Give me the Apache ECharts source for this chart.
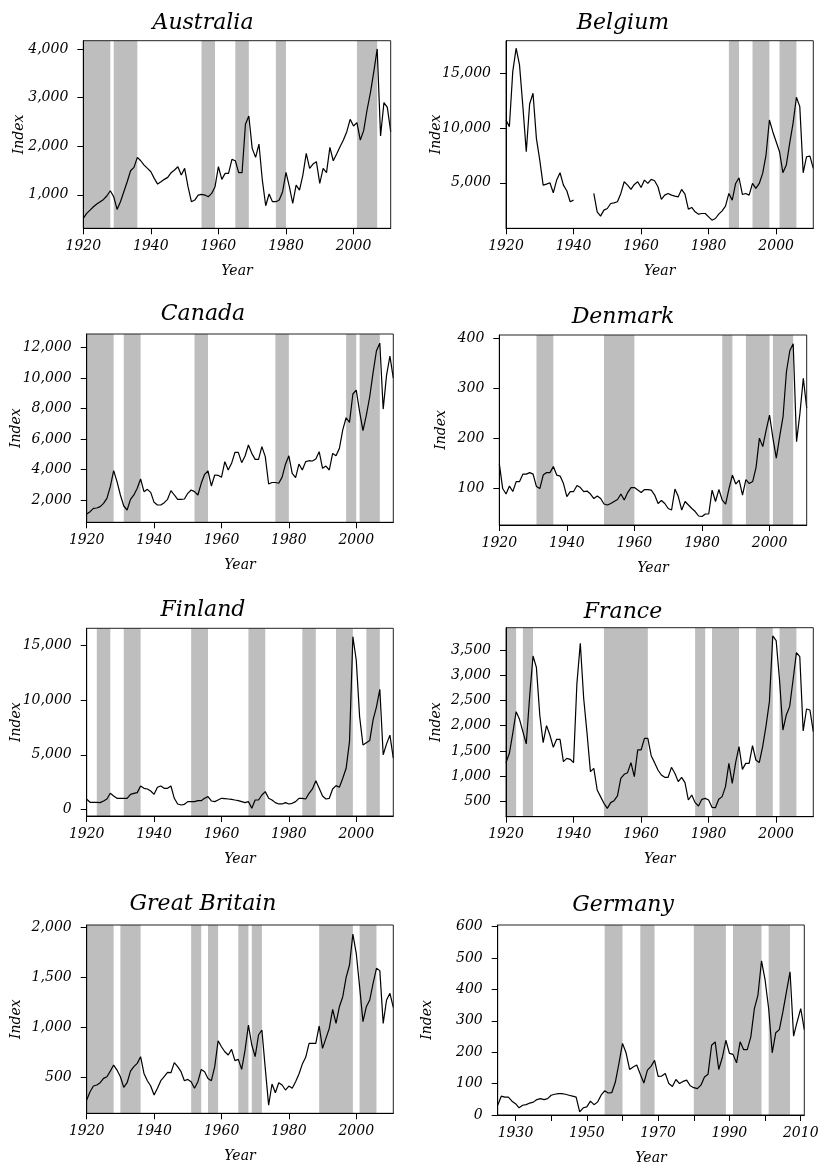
<!DOCTYPE html>
<html>
<head>
<meta charset="utf-8">
<script src="https://cdn.jsdelivr.net/npm/echarts@6/dist/echarts.min.js"></script>
<style>
  html, body { margin: 0; padding: 0; background: #fff; }
  #chart { width: 821px; height: 1170px; }
</style>
</head>
<body>
<div id="chart"></div>
<script>
// Annual house price index per country, with shaded boom periods.
const yearsFrom1920 = [];
for (let y = 1920; y <= 2011; y++) yearsFrom1920.push(y);
const yearsFrom1925 = [];
for (let y = 1925; y <= 2011; y++) yearsFrom1925.push(y);

const australia = [
  514, 616, 685, 754, 809, 857, 905, 980, 1083, 960,
  699, 857, 1063, 1268, 1495, 1564, 1770, 1700, 1611, 1543,
  1474, 1337, 1220, 1268, 1317, 1358, 1454, 1509, 1577, 1406,
  1543, 1166, 857, 891, 994, 1008, 994, 960, 1028, 1166,
  1577, 1317, 1440, 1440, 1728, 1700, 1454, 1454, 2450, 2620,
  1955, 1770, 2044, 1300, 774, 1015, 857, 857, 891, 1063,
  1460, 1166, 822, 1200, 1097, 1406, 1852, 1543, 1632, 1680,
  1234, 1543, 1454, 1975, 1700, 1838, 1989, 2126, 2298, 2552,
  2415, 2483, 2126, 2319, 2744, 3101, 3533, 4000, 2209, 2895,
  2799, 2298
];
const belgium = [
  10732, 10122, 15152, 17287, 15762, 11951, 7835, 12195, 13171, 9054,
  7073, 4786, 4878, 5000, 4085, 5244, 5914, 4786, 4268, 3262,
  3414, null, null, null, null, null, 4024, 2347, 1951, 2500,
  2652, 3109, 3170, 3262, 4024, 5091, 4786, 4390, 4847, 5091,
  4573, 5244, 4939, 5305, 5183, 4634, 3475, 3871, 4024, 3871,
  3780, 3719, 4390, 3963, 2591, 2743, 2347, 2134, 2195, 2195,
  1890, 1585, 1737, 2134, 2439, 2866, 4024, 3414, 4939, 5457,
  3932, 4024, 3871, 4939, 4482, 4939, 5853, 7530, 10732, 9664,
  8750, 7835, 5914, 6615, 8597, 10426, 12805, 11951, 5914, 7378,
  7439, 6311
];
const canada = [
  1082, 1235, 1454, 1476, 1563, 1782, 2110, 2876, 3926, 3204,
  2329, 1607, 1344, 2045, 2329, 2767, 3379, 2548, 2701, 2504,
  1848, 1673, 1673, 1826, 2045, 2614, 2329, 2045, 2045, 2067,
  2439, 2657, 2548, 2329, 3095, 3686, 3904, 2920, 3642, 3620,
  3489, 4517, 3970, 4408, 5130, 5130, 4452, 4889, 5611, 5064,
  4670, 4670, 5502, 4845, 3050, 3150, 3150, 3100, 3500, 4350,
  4900, 3750, 3470, 4360, 3970, 4520, 4580, 4560, 4690, 5170,
  4080, 4230, 3970, 5060, 4910, 5390, 6600, 7400, 7100, 8960,
  9220, 7800, 6550, 7580, 8780, 10360, 11800, 12300, 7970, 10200,
  11450, 10000
];
const denmark = [
  149, 99, 88, 104, 93, 113, 113, 128, 128, 131,
  128, 103, 99, 126, 131, 131, 143, 126, 124, 109,
  83, 93, 93, 105, 101, 93, 94, 88, 79, 84,
  79, 68, 66, 69, 73, 77, 88, 76, 91, 101,
  101, 96, 91, 97, 97, 96, 86, 69, 75, 69,
  59, 56, 98, 83, 56, 73, 66, 59, 53, 44,
  43, 48, 48, 96, 73, 97, 76, 68, 99, 126,
  108, 116, 86, 117, 109, 113, 141, 200, 183, 216,
  246, 200, 160, 203, 243, 333, 375, 389, 193, 250,
  320, 260
];
const finland = [
  917, 642, 642, 642, 611, 764, 947, 1466, 1222, 1008,
  1008, 1008, 1008, 1375, 1466, 1528, 2139, 1925, 1864, 1680,
  1375, 2016, 2139, 1925, 1925, 2139, 1008, 489, 397, 458,
  703, 703, 703, 794, 794, 1008, 1161, 764, 703, 855,
  1008, 978, 947, 917, 855, 794, 703, 611, 703, 92,
  855, 855, 1313, 1619, 1008, 855, 611, 489, 489, 611,
  489, 550, 703, 1008, 1008, 947, 1466, 1864, 2627, 1925,
  1222, 947, 1008, 1864, 2169, 2016, 2841, 3758, 6202, 15825,
  13686, 8500, 5900, 6100, 6300, 8200, 9400, 11000, 5000, 6000,
  6800, 4700
];
const france = [
  1267, 1452, 1848, 2278, 2126, 1881, 1637, 2575, 3381, 3156,
  2211, 1663, 2000, 1815, 1570, 1729, 1729, 1286, 1352, 1333,
  1267, 2839, 3632, 2542, 1848, 1088, 1154, 725, 593, 460,
  361, 474, 513, 606, 956, 1035, 1068, 1267, 989, 1518,
  1518, 1749, 1749, 1405, 1267, 1121, 1022, 976, 976, 1174,
  1055, 890, 976, 870, 526, 625, 474, 407, 540, 559,
  526, 381, 374, 540, 593, 791, 1253, 857, 1267, 1584,
  1134, 1253, 1253, 1604, 1319, 1267, 1584, 1993, 2476, 3778,
  3685, 2905, 1914, 2211, 2377, 2905, 3447, 3368, 1894, 2330,
  2310, 1881
];
const greatBritain = [
  277, 360, 417, 427, 450, 493, 510, 566, 626, 576,
  510, 404, 450, 566, 610, 643, 710, 543, 470, 417,
  327, 394, 470, 510, 553, 550, 650, 610, 560, 470,
  483, 460, 394, 460, 583, 560, 493, 470, 610, 869,
  809, 759, 726, 783, 670, 683, 583, 776, 1025, 826,
  710, 926, 976, 593, 227, 437, 350, 450, 427, 377,
  417, 394, 460, 537, 636, 703, 843, 843, 843, 1016,
  793, 892, 992, 1182, 1042, 1208, 1308, 1501, 1624, 1933,
  1741, 1408, 1059, 1208, 1275, 1441, 1591, 1568, 1042, 1275,
  1341, 1202
];
const germany = [
  31, 60, 57, 57, 44,
  36, 23, 31, 33, 38, 41, 49, 52, 49, 52,
  63, 66, 68, 68, 66, 63, 60, 57, 10, 23,
  26, 44, 33, 41, 63, 77, 70, 71, 105, 164,
  228, 198, 145, 153, 159, 130, 102, 143, 155, 174,
  123, 124, 132, 100, 91, 113, 100, 107, 111, 93,
  87, 84, 95, 121, 130, 222, 233, 145, 183, 238,
  196, 193, 166, 233, 208, 208, 249, 339, 382, 491,
  430, 339, 198, 262, 272, 329, 393, 456, 251, 297,
  339, 272
];

// Boom periods [start year, end year]
const australiaBooms = [[1920, 1928], [1929, 1936], [1955, 1959], [1965, 1969], [1977, 1980], [2001, 2007]];
const belgiumBooms = [[1986, 1989], [1993, 1998], [2001, 2006]];
const canadaBooms = [[1920, 1928], [1931, 1936], [1952, 1956], [1976, 1980], [1997, 2000], [2001, 2007]];
const denmarkBooms = [[1931, 1936], [1951, 1960], [1986, 1989], [1993, 2000], [2001, 2007]];
const finlandBooms = [[1923, 1927], [1931, 1936], [1951, 1956], [1968, 1973], [1984, 1988], [1994, 1999], [2003, 2007]];
const franceBooms = [[1920, 1923], [1925, 1928], [1949, 1962], [1976, 1979], [1981, 1989], [1994, 1999], [2001, 2006]];
const greatBritainBooms = [[1920, 1928], [1930, 1936], [1951, 1954], [1956, 1959], [1965, 1968], [1969, 1972], [1989, 1999], [2001, 2006]];
const germanyBooms = [[1955, 1960], [1965, 1969], [1980, 1989], [1991, 1999], [2001, 2007]];

// Tick values
const yearLabels = [1920, 1940, 1960, 1980, 2000];
const germanyYearLabels = [1930, 1950, 1970, 1990, 2010];
const germanyYearTicks = [1930, 1940, 1950, 1960, 1970, 1980, 1990, 2000, 2010];
const australiaTicks = [1000, 2000, 3000, 4000];
const belgiumTicks = [5000, 10000, 15000];
const canadaTicks = [2000, 4000, 6000, 8000, 10000, 12000];
const denmarkTicks = [100, 200, 300, 400];
const finlandTicks = [0, 5000, 10000, 15000];
const franceTicks = [500, 1000, 1500, 2000, 2500, 3000, 3500];
const greatBritainTicks = [500, 1000, 1500, 2000];
const germanyTicks = [0, 100, 200, 300, 400, 500, 600];

const FONT = '"DejaVu Serif", "Liberation Serif", serif';

const panels = [
  { name: 'Australia', years: yearsFrom1920, values: australia, booms: australiaBooms,
    yTicks: australiaTicks, yMin: 310, yMax: 4170, xMin: 1920, xMax: 2011,
    xLabels: yearLabels, xTicks: yearLabels,
    box: [83.3, 40.7, 307.4, 187.6], titleX: 198, titleTop: 7, yNameGap: 57 },
  { name: 'Belgium', years: yearsFrom1920, values: belgium, booms: belgiumBooms,
    yTicks: belgiumTicks, yMin: 842, yMax: 17973, xMin: 1920, xMax: 2011,
    xLabels: yearLabels, xTicks: yearLabels,
    box: [506, 40.7, 307.3, 187.6], titleX: 618, titleTop: 7, yNameGap: 63 },
  { name: 'Canada', years: yearsFrom1920, values: canada, booms: canadaBooms,
    yTicks: canadaTicks, yMin: 536, yMax: 12900, xMin: 1920, xMax: 2011,
    xLabels: yearLabels, xTicks: yearLabels,
    box: [86.7, 334, 306.6, 188.3], titleX: 198, titleTop: 298, yNameGap: 63.7 },
  { name: 'Denmark', years: yearsFrom1920, values: denmark, booms: denmarkBooms,
    yTicks: denmarkTicks, yMin: 26, yMax: 406.6, xMin: 1920, xMax: 2011,
    xLabels: yearLabels, xTicks: yearLabels,
    box: [499.3, 335, 307.4, 190], titleX: 618, titleTop: 301, yNameGap: 51.3 },
  { name: 'Finland', years: yearsFrom1920, values: finland, booms: finlandBooms,
    yTicks: finlandTicks, yMin: -614, yMax: 16595, xMin: 1920, xMax: 2011,
    xLabels: yearLabels, xTicks: yearLabels,
    box: [86.7, 628.3, 306.6, 187.7], titleX: 198, titleTop: 594, yNameGap: 63.7 },
  { name: 'France', years: yearsFrom1920, values: france, booms: franceBooms,
    yTicks: franceTicks, yMin: 195, yMax: 3942, xMin: 1920, xMax: 2011,
    xLabels: yearLabels, xTicks: yearLabels,
    box: [506, 627.7, 307.3, 189], titleX: 618, titleTop: 596, yNameGap: 63 },
  { name: 'Great Britain', years: yearsFrom1920, values: greatBritain, booms: greatBritainBooms,
    yTicks: greatBritainTicks, yMin: 145, yMax: 2023, xMin: 1920, xMax: 2011,
    xLabels: yearLabels, xTicks: yearLabels,
    box: [86.7, 925, 306.6, 188.3], titleX: 198, titleTop: 888, yNameGap: 63.7 },
  { name: 'Germany', years: yearsFrom1925, values: germany, booms: germanyBooms,
    yTicks: germanyTicks, yMin: 0, yMax: 605, xMin: 1925, xMax: 2011,
    xLabels: germanyYearLabels, xTicks: germanyYearTicks,
    box: [497.7, 925, 306.6, 190], titleX: 618, titleTop: 889, yNameGap: 63 }
];

const withCommas = v => String(v).replace(/\B(?=(\d{3})+(?!\d))/g, ',');
const plainYear = v => String(v);
const textBase = { fontFamily: FONT, fontStyle: 'italic', fontWeight: 'normal', color: '#000' };

const option = {
  animation: false,
  backgroundColor: '#fff',
  title: panels.map(p => ({
    text: p.name, left: p.titleX, top: p.titleTop, textAlign: 'center',
    textStyle: Object.assign({ fontSize: 22 }, textBase)
  })),
  grid: panels.map(p => ({
    left: p.box[0], top: p.box[1], width: p.box[2], height: p.box[3],
    show: true, backgroundColor: 'transparent', borderColor: '#222', borderWidth: 1,
    containLabel: false, outerBoundsMode: 'none', z: 10
  })),
  xAxis: panels.map((p, i) => ({
    type: 'value', gridIndex: i, min: p.xMin, max: p.xMax, z: 10,
    name: 'Year', nameLocation: 'middle', nameGap: 36, nameMoveOverlap: false,
    nameTextStyle: Object.assign({ fontSize: 14 }, textBase),
    axisLine: { show: true, onZero: false, lineStyle: { color: '#000', width: 1 } },
    axisTick: { show: true, inside: false, length: 6, customValues: p.xTicks, lineStyle: { color: '#000', width: 1 } },
    axisLabel: Object.assign({ customValues: p.xLabels, margin: 11, fontSize: 14, formatter: plainYear }, textBase),
    splitLine: { show: false }
  })),
  yAxis: panels.map((p, i) => ({
    type: 'value', gridIndex: i, min: p.yMin, max: p.yMax, z: 10,
    name: 'Index', nameLocation: 'middle', nameGap: p.yNameGap, nameMoveOverlap: false,
    nameTextStyle: Object.assign({ fontSize: 14 }, textBase),
    axisLine: { show: true, onZero: false, lineStyle: { color: '#000', width: 1 } },
    axisTick: { show: true, inside: false, length: 6, customValues: p.yTicks, lineStyle: { color: '#000', width: 1 } },
    axisLabel: Object.assign({ customValues: p.yTicks, margin: 15, fontSize: 14, formatter: withCommas }, textBase),
    splitLine: { show: false }
  })),
  series: panels.map((p, i) => ({
    type: 'line', name: p.name, xAxisIndex: i, yAxisIndex: i,
    data: p.years.map((y, k) => [y, p.values[k]]),
    symbol: 'none', showSymbol: false, connectNulls: false,
    lineStyle: { color: '#000', width: 1.2 },
    emphasis: { disabled: true },
    markArea: {
      silent: true,
      itemStyle: { color: '#bebebe', opacity: 1 },
      label: { show: false },
      data: p.booms.map(b => [{ xAxis: b[0] }, { xAxis: b[1] }])
    }
  }))
};

const chart = echarts.init(document.getElementById('chart'), null, { renderer: 'canvas' });
chart.setOption(option);
</script>
</body>
</html>
